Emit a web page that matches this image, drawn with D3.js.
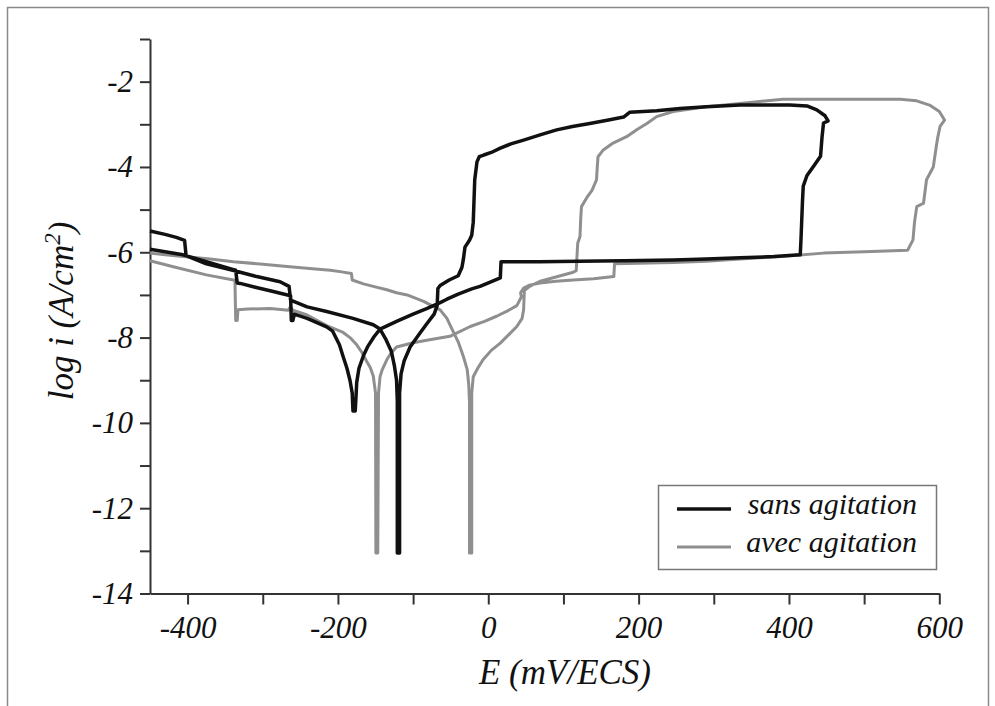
<!DOCTYPE html>
<html>
<head>
<meta charset="utf-8">
<script src="https://cdn.jsdelivr.net/npm/d3@7/dist/d3.min.js"></script>
<style>
  html, body { margin: 0; padding: 0; background: #fff; }
  svg { display: block; }
</style>
</head>
<body>
<svg id="chart" width="995" height="706"></svg>
<script>
// ---------- DATA ----------
const xTicks = [-400, -300, -200, -100, 0, 100, 200, 300, 400, 500, 600];
const xTickLabels = [-400, -200, 0, 200, 400, 600];
const yTicks = [-14, -13, -12, -11, -10, -9, -8, -7, -6, -5, -4, -3, -2, -1];
const yTickLabels = [-14, -12, -10, -8, -6, -4, -2];
const seriesNames = ["sans agitation", "avec agitation"];

// sans agitation : [E (mV/ECS), log i]
const sansAgitation = [
  [-450,-5.50],[-430,-5.58],[-415,-5.65],[-404,-5.72],[-402,-6.08],[-375,-6.27],[-340,-6.42],[-308,-6.57],
  [-277,-6.69],[-265,-6.80],[-263,-7.12],[-241,-7.28],[-215,-7.39],[-180,-7.55],[-153,-7.70],[-144,-7.80],
  [-136,-8.05],[-129,-8.32],[-125,-8.65],[-122,-9.0],[-121,-9.5],[-121,-13.05],[-118,-13.05],[-118,-9.3],
  [-116,-8.85],[-112,-8.55],[-104,-8.22],[-92,-7.92],[-82,-7.68],[-72,-7.45],[-68,-7.25],[-67,-6.85],
  [-64,-6.78],[-52,-6.65],[-40,-6.55],[-35,-6.35],[-33,-6.15],[-31,-5.88],[-25,-5.72],[-22,-5.6],
  [-20,-5.3],[-19,-4.8],[-18,-4.3],[-15,-3.88],[-12,-3.76],[-6,-3.72],[4,-3.66],[16,-3.56],[30,-3.46],
  [47,-3.37],[70,-3.24],[91,-3.13],[112,-3.05],[135,-2.98],[160,-2.9],[180,-2.83],[188,-2.72],[224,-2.68],
  [255,-2.63],[290,-2.59],[335,-2.55],[401,-2.55],[424,-2.57],[437,-2.66],[448,-2.8],[452,-2.92],
  [446,-2.97],[444,-3.3],[442,-3.75],[433,-3.98],[424,-4.2],[419,-4.45],[418,-4.8],[417,-5.25],
  [416,-5.7],[415,-6.06],
  [380,-6.1],[335,-6.13],[290,-6.16],[246,-6.18],[180,-6.2],[120,-6.21],[68,-6.22],[25,-6.22],[17,-6.22],
  [16,-6.6],[5,-6.68],[-11,-6.8],[-22,-6.86],[-40,-6.98],[-55,-7.1],[-64,-7.18],[-82,-7.32],[-100,-7.45],
  [-122,-7.62],[-144,-7.8],[-152,-7.98],[-160,-8.2],[-166,-8.42],[-172,-8.72],[-175,-9.05],[-176,-9.4],
  [-177,-9.72],[-180,-9.72],[-181,-9.3],[-184,-9.0],[-188,-8.72],[-193,-8.45],[-198,-8.17],[-207,-7.85],
  [-215,-7.75],[-241,-7.55],[-258,-7.45],[-260,-7.6],[-262,-7.6],[-263,-7.02],[-286,-6.92],[-310,-6.82],
  [-330,-6.73],[-334,-6.72],[-336,-6.42],[-340,-6.40],[-375,-6.22],[-406,-6.06],[-430,-5.99],[-450,-5.93]
];

// avec agitation : [E (mV/ECS), log i]
const avecAgitation = [
  [-450,-6.02],[-430,-6.06],[-406,-6.1],[-370,-6.16],[-339,-6.22],[-300,-6.28],[-264,-6.34],[-230,-6.39],
  [-210,-6.42],[-195,-6.46],[-182,-6.5],[-181,-6.65],[-166,-6.74],[-153,-6.8],[-135,-6.88],[-122,-6.95],
  [-108,-7.0],[-86,-7.15],[-75,-7.25],[-64,-7.35],[-55,-7.55],[-47,-7.85],[-40,-8.1],[-33,-8.45],
  [-28,-8.75],[-26,-9.1],[-25,-9.5],[-25,-13.05],[-22,-13.05],[-22,-9.3],[-20,-8.92],[-14,-8.72],
  [-7,-8.52],[4,-8.3],[16,-8.13],[28,-7.92],[38,-7.74],[45,-7.55],[47,-7.35],[48,-6.9],[55,-6.8],
  [69,-6.68],[90,-6.58],[113,-6.47],[117,-6.43],[118,-6.1],[119,-5.79],[122,-5.63],[123,-5.2],[124,-4.93],
  [131,-4.72],[138,-4.55],[144,-4.3],[145,-4.0],[146,-3.76],[153,-3.6],[166,-3.44],[184,-3.29],
  [198,-3.12],[211,-2.98],[224,-2.82],[246,-2.7],[290,-2.59],[335,-2.51],[392,-2.41],[480,-2.41],
  [548,-2.41],[570,-2.45],[587,-2.55],[600,-2.7],[607,-2.9],[601,-3.05],[598,-3.3],[596,-3.52],
  [592,-4.0],[583,-4.3],[579,-4.85],[570,-4.93],[567,-5.3],[565,-5.71],[558,-5.95],
  [500,-5.99],[446,-6.02],[390,-6.1],[335,-6.16],[290,-6.21],[246,-6.24],[200,-6.26],[168,-6.27],
  [167,-6.57],[140,-6.62],[113,-6.65],[90,-6.68],[69,-6.72],[55,-6.77],[47,-6.84],[43,-6.95],[44,-7.05],
  [38,-7.25],[25,-7.38],[11,-7.5],[-5,-7.62],[-24,-7.74],[-51,-7.97],[-78,-8.05],[-100,-8.12],
  [-122,-8.22],[-130,-8.38],[-135,-8.52],[-141,-8.75],[-144,-8.92],[-146,-9.3],[-147,-13.05],
  [-149.5,-13.05],[-150,-9.3],[-153,-8.9],[-157,-8.7],[-162,-8.55],[-168,-8.35],[-175,-8.17],
  [-184,-8.0],[-193,-7.88],[-215,-7.72],[-241,-7.47],[-260,-7.36],[-263,-7.27],[-266,-7.36],
  [-290,-7.32],[-320,-7.33],[-333,-7.35],[-334,-7.6],[-336,-7.6],[-337,-6.65],[-339,-6.65],
  [-375,-6.53],[-419,-6.34],[-450,-6.2]
];

// ---------- DRAW ----------
const FONT = '"Liberation Serif"';
const svg = d3.select("#chart");
const W = 995, H = 706;

svg.append("rect").attr("width", W).attr("height", H).attr("fill", "#fff");

// outer frame of the scanned figure
svg.append("path")
  .attr("d", "M7.5,706 L7.5,7.5 L988.5,7.5 L988.5,706")
  .attr("fill", "none").attr("stroke", "#8a8a8a").attr("stroke-width", 1.5);

const x = d3.scaleLinear().domain([-450, 600]).range([150, 939.3]);
const y = d3.scaleLinear().domain([-14, -1]).range([593.5, 39]);

const fmt = d => String(d);
const styleText = sel => sel.style("font-family", FONT).style("font-style", "italic").attr("fill", "#111");

// x axis
const xAxis = svg.append("g")
  .attr("transform", `translate(0,${y(-14)})`)
  .call(d3.axisBottom(x).tickValues(xTicks).tickSize(11).tickSizeOuter(0)
    .tickFormat(d => xTickLabels.includes(d) ? fmt(d) : ""));
xAxis.attr("font-family", null);
xAxis.selectAll("text").attr("y", 44).attr("dy", 0)
  .style("font-size", "31px").call(styleText);

// y axis
const yAxis = svg.append("g")
  .attr("transform", `translate(${x(-450)},0)`)
  .call(d3.axisLeft(y).tickValues(yTicks).tickSize(10).tickSizeOuter(0)
    .tickFormat(d => yTickLabels.includes(d) ? fmt(d) : ""));
yAxis.attr("font-family", null);
yAxis.selectAll("text").attr("x", -17).attr("dy", "0.32em")
  .style("font-size", "31px").call(styleText);

[xAxis, yAxis].forEach(g => {
  g.select(".domain").attr("stroke", "#333").attr("stroke-width", 2);
  g.selectAll(".tick line").attr("stroke", "#333").attr("stroke-width", 2);
});

// curves
const line = d3.line().x(d => x(d[0])).y(d => y(d[1]));
svg.append("path").datum(avecAgitation).attr("d", line)
  .attr("fill", "none").attr("stroke", "#8f8f8f").attr("stroke-width", 3)
  .attr("stroke-linejoin", "round");
svg.append("path").datum(sansAgitation).attr("d", line)
  .attr("fill", "none").attr("stroke", "#111").attr("stroke-width", 3.5)
  .attr("stroke-linejoin", "round");

// axis titles
svg.append("text")
  .attr("x", 565).attr("y", 684).attr("text-anchor", "middle")
  .style("font-size", "35px").call(styleText)
  .text("E (mV/ECS)");

const yt = svg.append("text")
  .attr("transform", "translate(73,311) rotate(-90)")
  .attr("text-anchor", "middle")
  .style("font-size", "35px").call(styleText);
yt.append("tspan").text("log i (A/cm");
yt.append("tspan").attr("dy", -13).style("font-size", "23px").text("2");
yt.append("tspan").attr("dy", 13).text(")");

// legend
const legend = svg.append("g");
legend.append("rect").attr("x", 658.5).attr("y", 485.5).attr("width", 278).attr("height", 84)
  .attr("fill", "#fff").attr("stroke", "#777").attr("stroke-width", 1.5);
const legendColors = ["#111", "#8f8f8f"];
const legendWidths = [3.5, 3];
seriesNames.forEach((name, i) => {
  const ly = 509 + i * 38;
  legend.append("line").attr("x1", 677).attr("x2", 731).attr("y1", ly).attr("y2", ly)
    .attr("stroke", legendColors[i]).attr("stroke-width", legendWidths[i]);
  legend.append("text").attr("x", 917).attr("y", ly + 5).attr("text-anchor", "end")
    .style("font-size", "30px").call(styleText).text(name);
});
</script>
</body>
</html>
